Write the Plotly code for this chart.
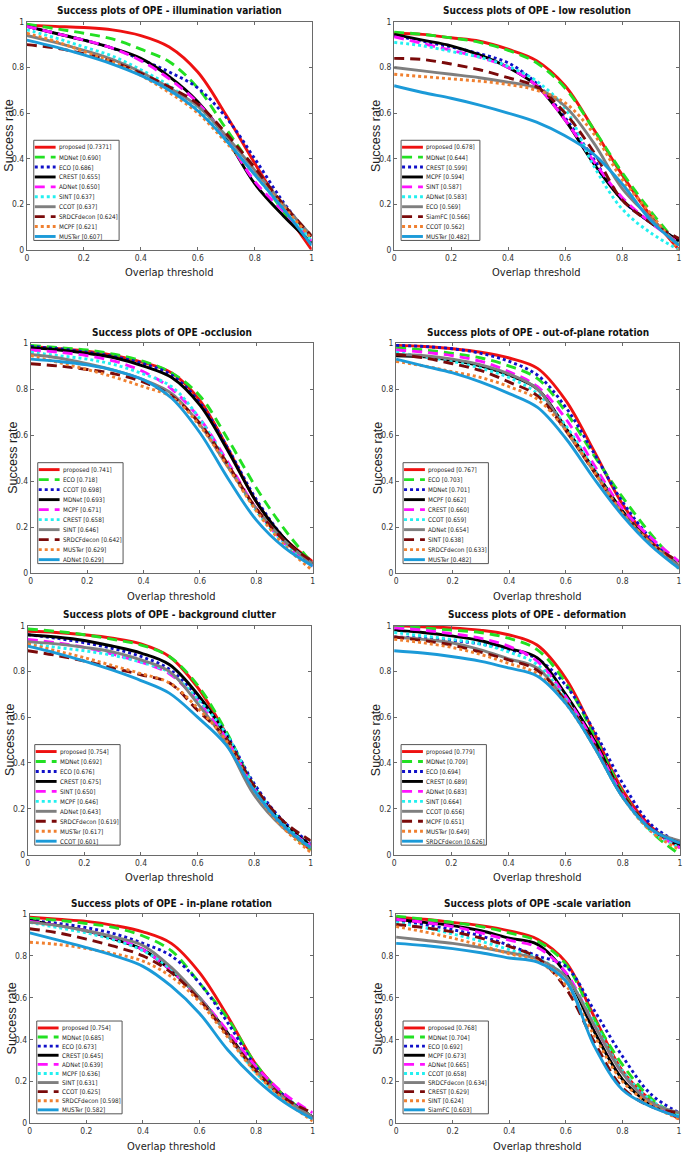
import plotly.graph_objects as go

W, H = 685, 1155

# ---------------- data ----------------
X = [0.0, 0.1, 0.2, 0.3, 0.4, 0.5, 0.6, 0.7, 0.8, 0.9, 1.0]
TICK_VALS = [0, 0.2, 0.4, 0.6, 0.8, 1]
TICK_LABELS = ["0", "0.2", "0.4", "0.6", "0.8", "1"]

IV_TITLE = "Success plots of OPE - illumination variation"
IV_NAMES = ["proposed", "MDNet", "ECO", "CREST", "ADNet", "SINT", "CCOT", "SRDCFdecon", "MCPF", "MUSTer"]
IV_SCORES = ["0.7371", "0.690", "0.686", "0.655", "0.650", "0.637", "0.637", "0.624", "0.621", "0.607"]
IV_CURVES = [
    [0.985, 0.98, 0.975, 0.965, 0.94, 0.89, 0.78, 0.59, 0.38, 0.18, 0.0],
    [0.99, 0.97, 0.95, 0.925, 0.88, 0.825, 0.71, 0.53, 0.35, 0.17, 0.03],
    [0.98, 0.95, 0.92, 0.885, 0.835, 0.78, 0.71, 0.58, 0.40, 0.21, 0.05],
    [0.98, 0.95, 0.92, 0.885, 0.84, 0.76, 0.65, 0.49, 0.29, 0.15, 0.03],
    [0.98, 0.95, 0.92, 0.885, 0.83, 0.75, 0.645, 0.49, 0.30, 0.17, 0.04],
    [0.965, 0.93, 0.89, 0.85, 0.79, 0.72, 0.62, 0.48, 0.33, 0.18, 0.04],
    [0.94, 0.91, 0.875, 0.835, 0.78, 0.71, 0.63, 0.50, 0.35, 0.20, 0.06],
    [0.90, 0.885, 0.86, 0.825, 0.775, 0.715, 0.64, 0.51, 0.36, 0.20, 0.06],
    [0.95, 0.915, 0.87, 0.825, 0.765, 0.69, 0.60, 0.47, 0.33, 0.19, 0.05],
    [0.92, 0.89, 0.855, 0.815, 0.765, 0.70, 0.61, 0.48, 0.33, 0.18, 0.02],
]

LR_TITLE = "Success plots of OPE - low resolution"
LR_NAMES = ["proposed", "MDNet", "CREST", "MCPF", "SINT", "ADNet", "ECO", "SiamFC", "CCOT", "MUSTer"]
LR_SCORES = ["0.678", "0.644", "0.599", "0.594", "0.587", "0.583", "0.569", "0.566", "0.562", "0.482"]
LR_CURVES = [
    [0.95, 0.945, 0.93, 0.915, 0.88, 0.83, 0.72, 0.53, 0.33, 0.15, 0.0],
    [0.955, 0.945, 0.93, 0.91, 0.875, 0.82, 0.71, 0.53, 0.34, 0.17, 0.02],
    [0.94, 0.915, 0.89, 0.86, 0.82, 0.73, 0.58, 0.40, 0.22, 0.12, 0.04],
    [0.945, 0.92, 0.895, 0.855, 0.80, 0.72, 0.57, 0.38, 0.22, 0.12, 0.04],
    [0.935, 0.905, 0.875, 0.845, 0.80, 0.72, 0.57, 0.39, 0.23, 0.12, 0.03],
    [0.91, 0.895, 0.87, 0.845, 0.805, 0.74, 0.62, 0.37, 0.18, 0.075, 0.0],
    [0.80, 0.785, 0.77, 0.755, 0.735, 0.71, 0.63, 0.47, 0.27, 0.14, 0.02],
    [0.84, 0.835, 0.815, 0.79, 0.755, 0.715, 0.60, 0.43, 0.22, 0.12, 0.05],
    [0.77, 0.76, 0.75, 0.74, 0.725, 0.70, 0.645, 0.51, 0.31, 0.16, 0.0],
    [0.72, 0.69, 0.665, 0.635, 0.60, 0.56, 0.50, 0.42, 0.29, 0.13, 0.02],
]

OCC_TITLE = "Success plots of OPE -occlusion"
OCC_NAMES = ["proposed", "ECO", "CCOT", "MDNet", "MCPF", "CREST", "SINT", "SRDCFdecon", "MUSTer", "ADNet"]
OCC_SCORES = ["0.741", "0.718", "0.698", "0.693", "0.671", "0.658", "0.646", "0.642", "0.629", "0.629"]
OCC_CURVES = [
    [0.985, 0.975, 0.965, 0.945, 0.915, 0.87, 0.75, 0.54, 0.31, 0.15, 0.05],
    [0.99, 0.98, 0.97, 0.95, 0.92, 0.87, 0.77, 0.58, 0.37, 0.19, 0.04],
    [0.985, 0.975, 0.96, 0.94, 0.91, 0.86, 0.74, 0.54, 0.32, 0.15, 0.03],
    [0.98, 0.97, 0.955, 0.935, 0.90, 0.85, 0.73, 0.53, 0.31, 0.15, 0.04],
    [0.97, 0.96, 0.945, 0.92, 0.875, 0.80, 0.67, 0.48, 0.28, 0.13, 0.03],
    [0.96, 0.945, 0.93, 0.905, 0.865, 0.81, 0.67, 0.47, 0.27, 0.13, 0.03],
    [0.95, 0.935, 0.91, 0.88, 0.84, 0.78, 0.645, 0.46, 0.28, 0.14, 0.04],
    [0.91, 0.90, 0.885, 0.865, 0.83, 0.77, 0.65, 0.47, 0.28, 0.14, 0.05],
    [0.945, 0.915, 0.885, 0.85, 0.81, 0.765, 0.64, 0.46, 0.27, 0.12, 0.01],
    [0.93, 0.92, 0.905, 0.88, 0.84, 0.76, 0.61, 0.41, 0.23, 0.11, 0.03],
]

OPR_TITLE = "Success plots of OPE - out-of-plane rotation"
OPR_NAMES = ["proposed", "ECO", "MDNet", "MCPF", "CREST", "CCOT", "ADNet", "SINT", "SRDCFdecon", "MUSTer"]
OPR_SCORES = ["0.767", "0.703", "0.701", "0.662", "0.660", "0.659", "0.654", "0.638", "0.633", "0.482"]
OPR_CURVES = [
    [0.99, 0.985, 0.975, 0.96, 0.935, 0.89, 0.75, 0.53, 0.30, 0.14, 0.03],
    [0.98, 0.97, 0.955, 0.935, 0.90, 0.845, 0.70, 0.51, 0.33, 0.17, 0.03],
    [0.99, 0.985, 0.975, 0.955, 0.92, 0.86, 0.72, 0.52, 0.31, 0.15, 0.03],
    [0.945, 0.94, 0.925, 0.90, 0.86, 0.80, 0.63, 0.45, 0.27, 0.13, 0.03],
    [0.97, 0.96, 0.945, 0.92, 0.875, 0.81, 0.67, 0.47, 0.28, 0.155, 0.05],
    [0.96, 0.94, 0.92, 0.89, 0.85, 0.78, 0.64, 0.45, 0.26, 0.13, 0.02],
    [0.95, 0.945, 0.93, 0.905, 0.865, 0.80, 0.62, 0.44, 0.26, 0.13, 0.03],
    [0.95, 0.935, 0.91, 0.88, 0.83, 0.77, 0.62, 0.44, 0.26, 0.13, 0.05],
    [0.92, 0.90, 0.875, 0.85, 0.81, 0.755, 0.62, 0.44, 0.26, 0.13, 0.02],
    [0.93, 0.90, 0.87, 0.83, 0.78, 0.72, 0.585, 0.41, 0.25, 0.12, 0.02],
]

BC_TITLE = "Success plots of OPE - background clutter"
BC_NAMES = ["proposed", "MDNet", "ECO", "CREST", "SINT", "MCPF", "ADNet", "SRDCFdecon", "MUSTer", "CCOT"]
BC_SCORES = ["0.754", "0.692", "0.676", "0.675", "0.650", "0.646", "0.643", "0.619", "0.617", "0.601"]
BC_CURVES = [
    [0.975, 0.97, 0.96, 0.945, 0.92, 0.865, 0.73, 0.53, 0.29, 0.13, 0.02],
    [0.985, 0.975, 0.96, 0.94, 0.915, 0.865, 0.74, 0.54, 0.30, 0.13, 0.02],
    [0.96, 0.945, 0.925, 0.90, 0.865, 0.81, 0.69, 0.53, 0.31, 0.15, 0.05],
    [0.96, 0.95, 0.935, 0.91, 0.88, 0.83, 0.70, 0.52, 0.29, 0.14, 0.04],
    [0.94, 0.925, 0.905, 0.875, 0.84, 0.79, 0.67, 0.51, 0.29, 0.13, 0.04],
    [0.92, 0.905, 0.89, 0.87, 0.84, 0.795, 0.68, 0.53, 0.30, 0.14, 0.03],
    [0.93, 0.92, 0.905, 0.885, 0.85, 0.80, 0.66, 0.49, 0.26, 0.12, 0.03],
    [0.89, 0.87, 0.845, 0.815, 0.785, 0.75, 0.63, 0.51, 0.30, 0.15, 0.06],
    [0.92, 0.89, 0.86, 0.825, 0.79, 0.75, 0.64, 0.50, 0.28, 0.12, 0.01],
    [0.91, 0.88, 0.845, 0.805, 0.76, 0.705, 0.60, 0.48, 0.28, 0.13, 0.03],
]

DEF_TITLE = "Success plots of OPE - deformation"
DEF_NAMES = ["proposed", "MDNet", "ECO", "CREST", "ADNet", "SINT", "CCOT", "MCPF", "MUSTer", "SRDCFdecon"]
DEF_SCORES = ["0.779", "0.709", "0.694", "0.689", "0.683", "0.664", "0.656", "0.651", "0.649", "0.626"]
DEF_CURVES = [
    [1.0, 0.995, 0.99, 0.98, 0.96, 0.915, 0.77, 0.53, 0.28, 0.12, 0.03],
    [0.995, 0.99, 0.98, 0.97, 0.945, 0.895, 0.75, 0.52, 0.27, 0.10, 0.0],
    [0.95, 0.945, 0.935, 0.92, 0.895, 0.855, 0.74, 0.54, 0.31, 0.13, 0.05],
    [0.98, 0.97, 0.955, 0.935, 0.90, 0.86, 0.70, 0.50, 0.26, 0.11, 0.04],
    [0.99, 0.98, 0.965, 0.945, 0.91, 0.845, 0.69, 0.49, 0.26, 0.11, 0.03],
    [0.97, 0.955, 0.94, 0.92, 0.885, 0.83, 0.68, 0.47, 0.25, 0.10, 0.03],
    [0.95, 0.94, 0.925, 0.895, 0.855, 0.815, 0.67, 0.47, 0.25, 0.11, 0.06],
    [0.95, 0.935, 0.915, 0.885, 0.85, 0.805, 0.67, 0.48, 0.26, 0.11, 0.05],
    [0.94, 0.925, 0.905, 0.875, 0.835, 0.79, 0.66, 0.47, 0.25, 0.10, 0.02],
    [0.89, 0.88, 0.865, 0.845, 0.815, 0.78, 0.66, 0.47, 0.25, 0.11, 0.05],
]

IPR_TITLE = "Success plots of OPE - in-plane rotation"
IPR_NAMES = ["proposed", "MDNet", "ECO", "CREST", "ADNet", "MCPF", "SINT", "CCOT", "SRDCFdecon", "MUSTer"]
IPR_SCORES = ["0.754", "0.685", "0.673", "0.645", "0.639", "0.636", "0.631", "0.625", "0.598", "0.582"]
IPR_CURVES = [
    [0.985, 0.975, 0.965, 0.945, 0.915, 0.86, 0.72, 0.51, 0.28, 0.13, 0.02],
    [0.98, 0.97, 0.955, 0.935, 0.895, 0.825, 0.67, 0.50, 0.28, 0.13, 0.03],
    [0.97, 0.955, 0.935, 0.905, 0.86, 0.80, 0.67, 0.48, 0.27, 0.13, 0.03],
    [0.97, 0.945, 0.92, 0.88, 0.83, 0.73, 0.60, 0.43, 0.25, 0.12, 0.03],
    [0.965, 0.945, 0.92, 0.885, 0.83, 0.73, 0.60, 0.44, 0.27, 0.14, 0.05],
    [0.96, 0.935, 0.91, 0.875, 0.825, 0.735, 0.60, 0.42, 0.24, 0.11, 0.02],
    [0.96, 0.945, 0.92, 0.89, 0.85, 0.745, 0.60, 0.42, 0.25, 0.12, 0.03],
    [0.93, 0.91, 0.88, 0.845, 0.80, 0.72, 0.59, 0.42, 0.25, 0.12, 0.05],
    [0.865, 0.855, 0.835, 0.81, 0.775, 0.70, 0.58, 0.41, 0.24, 0.11, 0.01],
    [0.91, 0.875, 0.84, 0.80, 0.75, 0.655, 0.525, 0.35, 0.21, 0.10, 0.02],
]

SV_TITLE = "Success plots of OPE -scale variation"
SV_NAMES = ["proposed", "MDNet", "ECO", "MCPF", "ADNet", "CCOT", "SRDCFdecon", "CREST", "SINT", "SiamFC"]
SV_SCORES = ["0.768", "0.704", "0.692", "0.673", "0.665", "0.658", "0.634", "0.629", "0.624", "0.603"]
SV_CURVES = [
    [0.985, 0.975, 0.96, 0.945, 0.92, 0.88, 0.77, 0.51, 0.25, 0.11, 0.02],
    [0.99, 0.975, 0.96, 0.94, 0.91, 0.87, 0.76, 0.50, 0.28, 0.12, 0.03],
    [0.97, 0.95, 0.925, 0.895, 0.85, 0.80, 0.75, 0.54, 0.32, 0.14, 0.05],
    [0.975, 0.96, 0.945, 0.92, 0.885, 0.855, 0.715, 0.44, 0.21, 0.09, 0.03],
    [0.975, 0.96, 0.94, 0.91, 0.875, 0.84, 0.72, 0.47, 0.24, 0.10, 0.04],
    [0.96, 0.935, 0.905, 0.87, 0.83, 0.79, 0.70, 0.48, 0.25, 0.11, 0.04],
    [0.89, 0.875, 0.86, 0.84, 0.815, 0.785, 0.70, 0.47, 0.24, 0.10, 0.05],
    [0.95, 0.935, 0.915, 0.885, 0.845, 0.79, 0.645, 0.39, 0.17, 0.08, 0.05],
    [0.94, 0.915, 0.885, 0.85, 0.81, 0.775, 0.66, 0.42, 0.20, 0.09, 0.02],
    [0.86, 0.85, 0.835, 0.815, 0.79, 0.77, 0.68, 0.37, 0.16, 0.08, 0.03],
]

PANELS_DATA = [
    (IV_TITLE, IV_NAMES, IV_SCORES, IV_CURVES),
    (LR_TITLE, LR_NAMES, LR_SCORES, LR_CURVES),
    (OCC_TITLE, OCC_NAMES, OCC_SCORES, OCC_CURVES),
    (OPR_TITLE, OPR_NAMES, OPR_SCORES, OPR_CURVES),
    (BC_TITLE, BC_NAMES, BC_SCORES, BC_CURVES),
    (DEF_TITLE, DEF_NAMES, DEF_SCORES, DEF_CURVES),
    (IPR_TITLE, IPR_NAMES, IPR_SCORES, IPR_CURVES),
    (SV_TITLE, SV_NAMES, SV_SCORES, SV_CURVES),
]

# ---------------- styles (by legend rank) ----------------
COLORS = ["#ee1111", "#22e022", "#1010c8", "#000000", "#ff11ff",
          "#22f0f0", "#7f7f7f", "#7a0a0a", "#f08030", "#1b9ad8"]
DASHES = ["solid", "10px,6px", "3px,3px", "solid", "10px,6px",
          "3px,3px", "solid", "10px,6px", "3px,3px", "solid"]
LW = 2.9

NARROW = "Liberation Sans Narrow, DejaVu Sans Condensed, Arial Narrow, sans-serif"
REGULAR = "Liberation Sans, Arial, sans-serif"

# axis boxes in pixels: left, right, top, bottom
BOXES = [(25, 312, 17, 247), (395, 682, 17, 247),
         (29, 313, 341, 573), (397, 682, 341, 573),
         (26, 311, 626, 857), (395, 683, 626, 857),
         (28, 313, 917, 1128), (397, 682, 917, 1128)]

fig = go.Figure()
shapes, annotations = [], []
layout = dict(width=W, height=H, autosize=False, margin=dict(l=0, r=0, t=0, b=0, pad=0),
              paper_bgcolor="white", plot_bgcolor="white", showlegend=False)

LEG_FONT = 6.3
for i, ((title, names, scores, curves), (l, r, t, b)) in enumerate(zip(PANELS_DATA, BOXES)):
    n = i + 1
    xa = "x" if n == 1 else f"x{n}"
    ya = "y" if n == 1 else f"y{n}"
    axis_common = dict(range=[0, 1], showgrid=False, zeroline=False, showline=True,
                       linecolor="#6a6a6a", linewidth=1, mirror="ticks", ticks="inside",
                       ticklen=3, tickcolor="#6a6a6a", tickvals=TICK_VALS, ticktext=TICK_LABELS,
                       tickfont=dict(family=NARROW, size=8.5, color="#333"), fixedrange=True)
    layout["xaxis" if n == 1 else f"xaxis{n}"] = dict(axis_common, domain=[l / W, r / W], anchor=ya)
    layout["yaxis" if n == 1 else f"yaxis{n}"] = dict(axis_common, domain=[1 - b / H, 1 - t / H], anchor=xa)

    for k, (nm, ys) in enumerate(zip(names, curves)):
        fig.add_trace(go.Scatter(x=X, y=ys, mode="lines", name=nm, xaxis=xa, yaxis=ya,
                                 line=dict(color=COLORS[k], width=LW, dash=DASHES[k],
                                           shape="spline", smoothing=1.0),
                                 hoverinfo="skip"))

    pw, ph = r - l, b - t
    xr, yr = f"{xa} domain", f"{ya} domain"
    # titles
    annotations.append(dict(text=f"<b>{title}</b>", xref=xr, yref=yr, x=0.5, y=1, yanchor="middle",
                            yshift=11, showarrow=False, font=dict(family=NARROW, size=10, color="#111")))
    annotations.append(dict(text="Overlap threshold", xref=xr, yref=yr, x=0.5, y=0, yanchor="middle",
                            yshift=-23, showarrow=False, font=dict(family=NARROW, size=11, color="#222")))
    annotations.append(dict(text="Success rate", xref=xr, yref=yr, x=0, y=0.5, xanchor="center",
                            xshift=-18, textangle=-90, showarrow=False,
                            font=dict(family=REGULAR, size=12.5, color="#222")))

    # legend box
    sp = 0.0435 * ph
    bottom_px = b - 9.5
    top_px = bottom_px - (9 * sp + 11)
    labels = [f"{nm} [{sc}]" for nm, sc in zip(names, scores)]
    maxlen = max(len(s) for s in labels)
    box_l = 7
    box_r = 30 + 0.52 * LEG_FONT * maxlen + 4
    shapes.append(dict(type="rect", xref=xr, yref=yr, x0=box_l / pw, x1=box_r / pw,
                       y0=(b - bottom_px) / ph, y1=(b - top_px) / ph,
                       line=dict(color="#555", width=1), fillcolor="white", layer="above"))
    for k, lab in enumerate(labels):
        yc = top_px + 7 + k * sp
        yd = (b - yc) / ph
        shapes.append(dict(type="line", xref=xr, yref=yr, x0=8 / pw, x1=29 / pw, y0=yd, y1=yd,
                           line=dict(color=COLORS[k], width=LW, dash=DASHES[k]), layer="above"))
        annotations.append(dict(text=lab, xref=xr, yref=yr, x=30 / pw, y=yd, xanchor="left",
                                yanchor="middle", showarrow=False,
                                font=dict(family=NARROW, size=LEG_FONT, color="#222")))

layout["shapes"] = shapes
layout["annotations"] = annotations
fig.update_layout(**layout)
fig.write_html("out.html", config={"displayModeBar": False},
               post_script="document.body.style.margin='0';document.body.style.overflow='hidden';")
